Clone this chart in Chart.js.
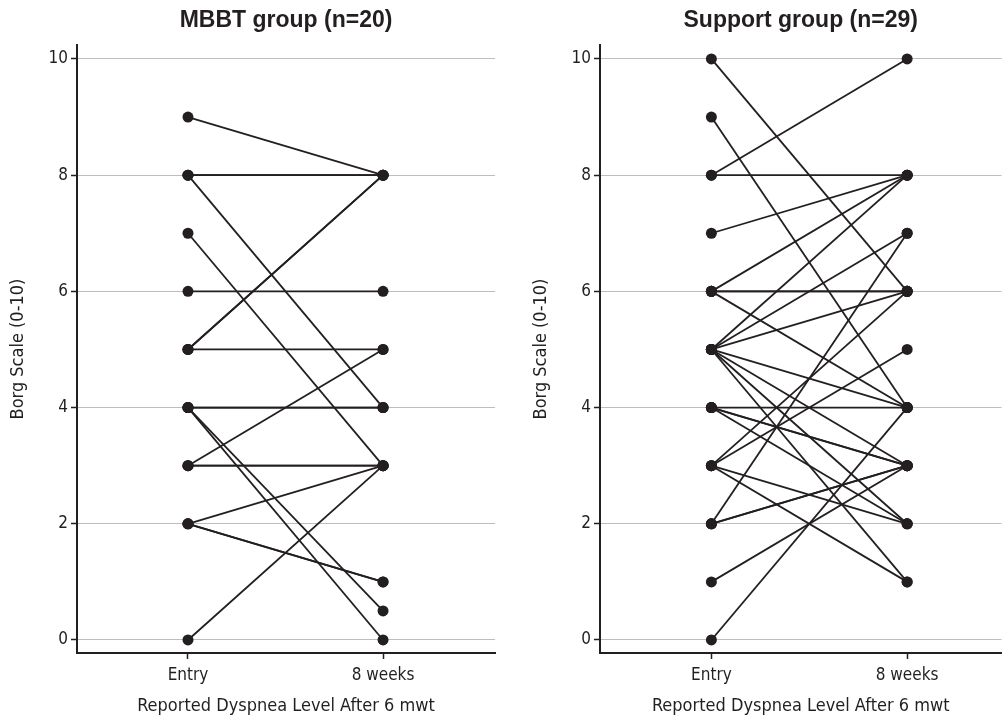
<!DOCTYPE html>
<html>
<head>
<meta charset="utf-8">
<script src="https://cdn.jsdelivr.net/npm/chart.js@4.4.1/dist/chart.umd.min.js"></script>
<style>
  body { margin: 0; background: #fff; }
  .panel { position: absolute; top: 0; height: 721px; }
  #left { left: 0; width: 503px; }
  #right { left: 503px; width: 504px; }
</style>
</head>
<body>
<div class="panel" id="left"><canvas id="mbbt"></canvas></div>
<div class="panel" id="right"><canvas id="support"></canvas></div>
<script>
const categories = ["Entry", "8 weeks"];
const yTicks = [0, 2, 4, 6, 8, 10];

// MBBT group: one patient per index
const mbbtEntry = [9, 8, 8, 8, 7, 6, 5, 5, 5, 4, 4, 4, 4, 3, 3, 3, 2, 2, 2, 0];
const mbbtWeek8 = [8, 8, 8, 4, 3, 6, 8, 8, 5, 4, 4, 0.5, 0, 3, 3, 5, 3, 1, 1, 3];

// Support group
const supportEntry = [10, 9, 8, 8, 7, 6, 6, 6, 6, 5, 5, 5, 5, 5, 5, 5, 4, 4, 4, 4, 3, 3, 3, 3, 2, 2, 2, 1, 0];
const supportWeek8 = [6, 4, 10, 8, 8, 8, 6, 6, 4, 8, 7, 6, 4, 3, 2, 1, 4, 3, 3, 2, 6, 5, 2, 1, 7, 3, 3, 3, 4];

const ink = "#231f20";
const narrow = "'Liberation Sans Narrow', 'DejaVu Sans Condensed', sans-serif";

function pairs(entry, week8) {
  return entry.map((v, i) => ({
    data: [{ x: 0, y: v }, { x: 1, y: week8[i] }],
    borderColor: ink,
    backgroundColor: ink,
    borderWidth: 1.8,
    pointRadius: 5.5,
    pointHoverRadius: 5.5,
    pointBorderWidth: 0,
  }));
}

// panel title, centred on the plot area
const panelTitle = {
  id: "panelTitle",
  afterDraw(chart, args, opts) {
    const ctx = chart.ctx;
    const a = chart.chartArea;
    ctx.save();
    ctx.fillStyle = ink;
    ctx.font = "bold 23px 'Liberation Sans', Arial, sans-serif";
    ctx.textAlign = "center";
    ctx.textBaseline = "middle";
    ctx.fillText(opts.text, (a.left + a.right) / 2, 21);
    ctx.restore();
  },
};

function makeChart(id, entry, week8, title, padLeft, padRight, xMax) {
  return new Chart(document.getElementById(id), {
    type: "line",
    data: { datasets: pairs(entry, week8) },
    options: {
      responsive: true,
      maintainAspectRatio: false,
      animation: false,
      layout: { padding: { top: 45, left: padLeft, right: padRight, bottom: 0 } },
      plugins: {
        legend: { display: false },
        tooltip: { enabled: false },
        panelTitle: { text: title },
      },
      scales: {
        x: {
          type: "linear",
          min: -0.569,
          max: xMax,
          afterBuildTicks: (scale) => {
            scale.ticks = [{ value: 0 }, { value: 1 }];
          },
          afterFit: (scale) => {
            scale.height = 68;
          },
          ticks: {
            color: ink,
            font: { family: narrow, size: 17 },
            padding: 6,
            callback: (v) => categories[v],
          },
          grid: {
            drawOnChartArea: false,
            drawTicks: true,
            tickLength: 6,
            tickColor: ink,
            tickWidth: 1.5,
          },
          border: { color: ink, width: 2 },
          title: {
            display: true,
            text: "Reported Dyspnea Level After 6 mwt",
            color: ink,
            font: { family: narrow, size: 18 },
            padding: { top: 4, bottom: 4 },
          },
        },
        y: {
          min: -0.224,
          max: 10.24,
          afterBuildTicks: (scale) => {
            scale.ticks = yTicks.map((v) => ({ value: v }));
          },
          afterFit: (scale) => {
            scale.width = 77;
          },
          ticks: {
            color: ink,
            font: { family: narrow, size: 17 },
            padding: 3,
          },
          grid: {
            color: "#bdbdbd",
            lineWidth: 1,
            tickLength: 6,
            tickColor: ink,
            tickWidth: 1.5,
          },
          border: { color: ink, width: 2 },
          title: {
            display: true,
            text: "Borg Scale (0-10)",
            color: ink,
            font: { family: narrow, size: 18 },
            padding: { top: 8, bottom: 8 },
          },
        },
      },
    },
    plugins: [panelTitle],
  });
}

makeChart("mbbt", mbbtEntry, mbbtWeek8, "MBBT group (n=20)", 0, 8, 1.574);
makeChart("support", supportEntry, supportWeek8, "Support group (n=29)", 20, 4, 1.482);
</script>
</body>
</html>
